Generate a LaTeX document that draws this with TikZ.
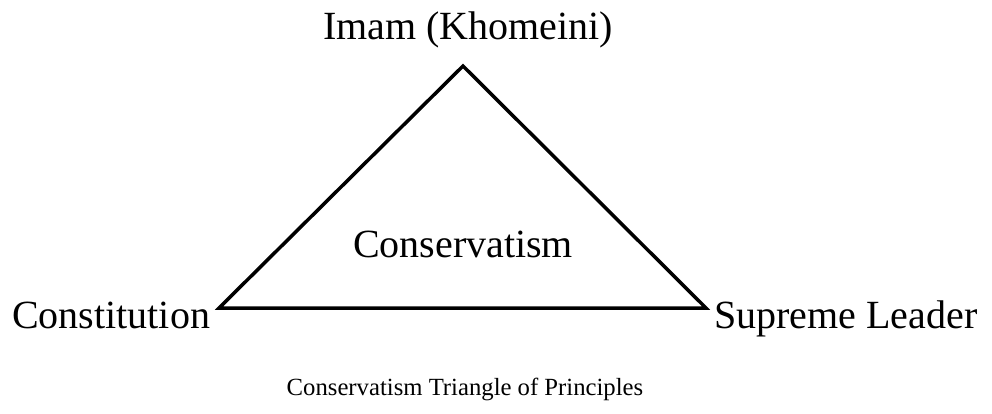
\documentclass[tikz,border=0pt]{standalone}
\usepackage{fontspec}
\setmainfont{Liberation Serif}
\begin{document}
\begin{tikzpicture}[x=1pt,y=-1pt,
  bigtext/.style={font=\fontsize{40}{48}\selectfont, inner sep=0pt, anchor=base},
  captext/.style={font=\fontsize{24.7}{30}\selectfont, inner sep=0pt, anchor=base},
  triedge/.style={line width=3.5pt, line join=miter}]
\useasboundingbox (0,0) rectangle (992,413);
\coordinate (top) at (463,66);
\coordinate (left) at (219,308);
\coordinate (right) at (706,308);
\draw[triedge] (top) -- (left) -- (right) -- cycle;
\node[bigtext] (imam) at (468,39) {Imam (Khomeini)};
\node[bigtext] (cons) at (463,257) {Conservatism};
\node[bigtext, anchor=base west] (const) at (12,328) {Constitution};
\node[bigtext, anchor=base west] (sl) at (714,328) {Supreme Leader};
\node[captext] (caption) at (465,395) {Conservatism Triangle of Principles};
\end{tikzpicture}
\end{document}
